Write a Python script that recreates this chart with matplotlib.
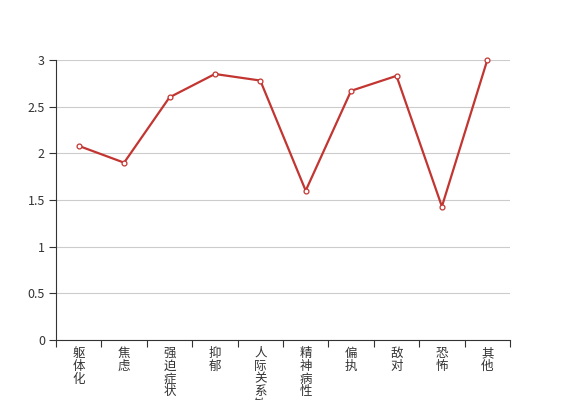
import numpy as np
import matplotlib
matplotlib.use("Agg")
import matplotlib.pyplot as plt

plt.rcParams['font.family'] = ['Noto Sans CJK SC', 'DejaVu Sans']

categories = ['躯体化', '焦虑', '强迫症状', '抑郁', '人际关系敏感',
              '精神病性', '偏执', '敌对', '恐怖', '其他']
values = [2.08, 1.9, 2.6, 2.85, 2.78, 1.6, 2.67, 2.83, 1.43, 3.0]
yticks = [0, 0.5, 1, 1.5, 2, 2.5, 3]
ytick_labels = ['0', '0.5', '1', '1.5', '2', '2.5', '3']

fig = plt.figure(figsize=(5.67, 4.0), dpi=100)
ax = fig.add_axes([56 / 567, 60 / 400, 454 / 567, 280 / 400])

x = np.arange(len(categories))
ax.plot(x, values, color='#c23531', linewidth=1.6, marker='o', markersize=3.5,
        markerfacecolor='white', markeredgecolor='#c23531', markeredgewidth=0.9,
        zorder=3, clip_on=False)

ax.set_xlim(-0.5, len(categories) - 0.5)
ax.set_ylim(0, 3)

# y axis
ax.set_yticks(yticks)
ax.set_yticklabels(ytick_labels)
ax.grid(axis='y', color='#cccccc', linewidth=0.8)
ax.set_axisbelow(True)

# x axis: ticks at band edges, labels at band centres
ax.set_xticks(x)
ax.set_xticklabels(['\n'.join(c) for c in categories], linespacing=0.98,
                   va='top')
ax.set_xticks(np.arange(-0.5, len(categories)), minor=True)
ax.tick_params(axis='x', which='major', length=0, pad=5)
ax.tick_params(axis='x', which='minor', length=5, width=0.8, color='#333333')
ax.tick_params(axis='y', length=5, width=0.8, color='#333333', pad=3)
ax.tick_params(axis='both', labelsize=9, labelcolor='#333333')

for side in ['top', 'right']:
    ax.spines[side].set_visible(False)
for side in ['left', 'bottom']:
    ax.spines[side].set_color('#333333')
    ax.spines[side].set_linewidth(0.8)

fig.savefig('out.png', dpi=100)
